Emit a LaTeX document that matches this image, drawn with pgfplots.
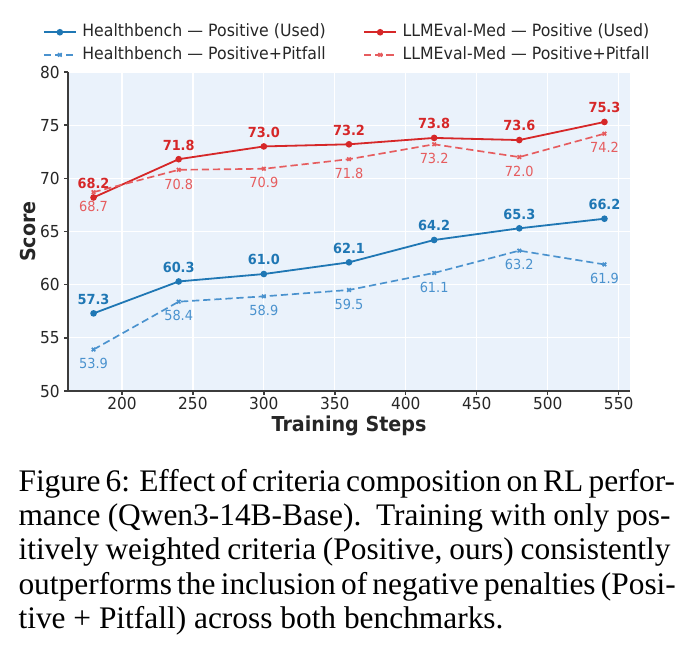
\documentclass[border=0pt]{standalone}
\usepackage{fontspec}
\setmainfont[FakeStretch=0.93]{DejaVu Sans}
\newfontfamily\capfont{Liberation Serif}
\usepackage{pgfplots}
\pgfplotsset{compat=1.18}

\definecolor{hbsolid}{RGB}{31,119,180}
\definecolor{hbdash}{RGB}{74,146,206}
\definecolor{llmsolid}{RGB}{214,39,40}
\definecolor{llmdash}{RGB}{230,92,94}
\definecolor{panel}{RGB}{234,242,251}
\definecolor{spine}{RGB}{60,60,60}

% scores per training step
\pgfplotstableread{
step hbpos hbpit llmpos llmpit
180 57.3 53.9 68.2 68.7
240 60.3 58.4 71.8 70.8
300 61.0 58.9 73.0 70.9
360 62.1 59.5 73.2 71.8
420 64.2 61.1 73.8 73.2
480 65.3 63.2 73.6 72.0
540 66.2 61.9 75.3 74.2
}\scores

\newcommand\tickfont{\fontsize{5.95}{7.1}\selectfont}
\newcommand\valfont{\fontsize{5.0}{6}\selectfont}

\begin{document}
\begin{tikzpicture}[x=0.36pt,y=0.36pt]
\path[use as bounding box] (0,0) rectangle (687,662);
\coordinate (axisorigin) at (68,271);
\begin{axis}[
  at={(axisorigin)}, anchor=south west,
  scale only axis, width=202.32pt, height=114.84pt,
  xmin=162, xmax=558, ymin=50, ymax=80,
  xtick={200,250,...,550}, ytick={50,55,...,80},
  /pgf/number format/assume math mode=true,
  ticklabel style={font=\tickfont, text=black!85},
  xticklabel style={yshift=2.5pt},
  yticklabel style={xshift=1.8pt},
  axis background/.style={fill=panel},
  grid=major, major grid style={white, line width=0.45pt},
  axis x line*=bottom, axis y line*=left,
  axis line style={spine, line width=0.5pt, -},
  tick style={spine, line width=0.5pt}, tick align=outside,
  major tick length=1.3pt,
  xlabel={Training Steps}, ylabel={Score},
  label style={font=\bfseries\fontsize{7.4}{8.8}\selectfont, text=black!85},
  xlabel style={yshift=4.7pt},
  ylabel style={yshift=-5.4pt},
  legend columns=2,
  legend cell align=left,
  legend style={at={(0.5,1)}, anchor=south, yshift=-1.1pt, draw=none, fill=none,
    font=\fontsize{6.1}{7.3}\selectfont, text=black!85,
    row sep=-2pt,
    /tikz/every even column/.append style={column sep=11.5pt}},
  legend image code/.code={\draw[mark repeat=2,mark phase=2]
    plot coordinates {(0pt,0pt)(5.75pt,0pt)(11.5pt,0pt)};},
  point meta=y,
  nodes near coords={\pgfmathprintnumber[fixed,fixed zerofill,precision=1]{\pgfplotspointmeta}},
  every node near coord/.append style={inner sep=0pt},
]
\addplot[hbsolid, line width=0.65pt, mark=*, mark size=0.85pt,
  every node near coord/.append style={anchor=south, yshift=2.9pt, font=\bfseries\valfont, text=hbsolid}]
  table[x=step, y=hbpos] {\scores};
\addlegendentry{Healthbench — Positive (Used)}
\addplot[llmsolid, line width=0.65pt, mark=*, mark size=0.85pt,
  every node near coord/.append style={anchor=south, yshift=2.9pt, font=\bfseries\valfont, text=llmsolid}]
  table[x=step, y=llmpos] {\scores};
\addlegendentry{LLMEval-Med — Positive (Used)}
\addplot[hbdash, line width=0.6pt, dash pattern=on 2.6pt off 1.4pt, mark=x, mark size=0.9pt,
  mark options={solid},
  every node near coord/.append style={anchor=north, yshift=-2.9pt, font=\valfont, text=hbdash}]
  table[x=step, y=hbpit] {\scores};
\addlegendentry{Healthbench — Positive+Pitfall}
\addplot[llmdash, line width=0.6pt, dash pattern=on 2.6pt off 1.4pt, mark=x, mark size=0.9pt,
  mark options={solid},
  every node near coord/.append style={anchor=north, yshift=-2.9pt, font=\valfont, text=llmdash}]
  table[x=step, y=llmpit] {\scores};
\addlegendentry{LLMEval-Med — Positive+Pitfall}
\end{axis}
% caption set as five justified lines
\begin{scope}[every node/.style={anchor=base west, inner sep=0pt, font=\capfont\fontsize{11.3}{12.3}\selectfont}]
\node at (18,170) {\makebox[234.72pt][s]{Figure 6: Effect of criteria composition on RL perfor-}};
\node at (18,136) {\makebox[234.72pt][s]{mance (Qwen3-14B-Base).\ \ Training with only pos-}};
\node at (18,102) {\makebox[234.72pt][s]{itively weighted criteria (Positive, ours) consistently}};
\node at (18,67) {\makebox[234.72pt][s]{outperforms the inclusion of negative penalties (Posi-}};
\node at (18,33) {tive + Pitfall) across both benchmarks.};
\end{scope}
\end{tikzpicture}
\end{document}
